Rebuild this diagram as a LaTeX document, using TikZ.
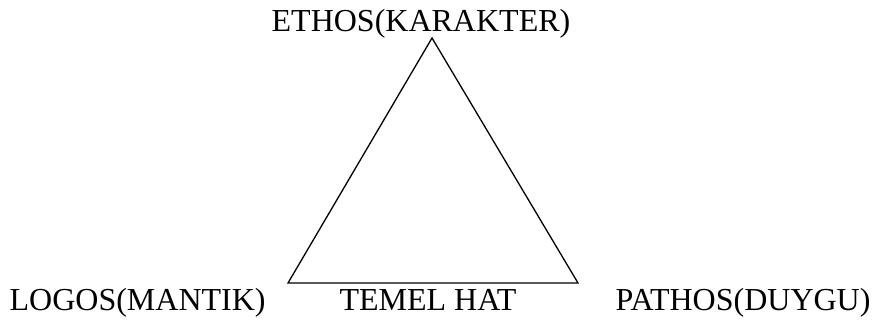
\documentclass[tikz,border=0pt]{standalone}
\usepackage{fontspec}
\setmainfont{Liberation Serif}
\begin{document}
\begin{tikzpicture}[
  x=1pt, y=-1pt,
  lbl/.style={inner sep=0pt, font=\fontsize{32}{38}\selectfont},
  line width=1.3pt, line join=miter
]
  \useasboundingbox (0,0) rectangle (877,324);

  \coordinate (ethos) at (432, 38);
  \coordinate (logos) at (288, 283);
  \coordinate (pathos) at (578, 283);

  \draw (ethos) -- (logos) -- (pathos) -- cycle;

  \node[lbl, anchor=base] (ethoslbl) at (421, 31) {ETHOS(KARAKTER)};
  \node[lbl, anchor=base west] (logoslbl) at (9, 310) {LOGOS(MANTIK)};
  \node[lbl, anchor=base] (temel) at (428, 310) {TEMEL HAT};
  \node[lbl, anchor=base west] (pathoslbl) at (615, 310) {PATHOS(DUYGU)};
\end{tikzpicture}
\end{document}
